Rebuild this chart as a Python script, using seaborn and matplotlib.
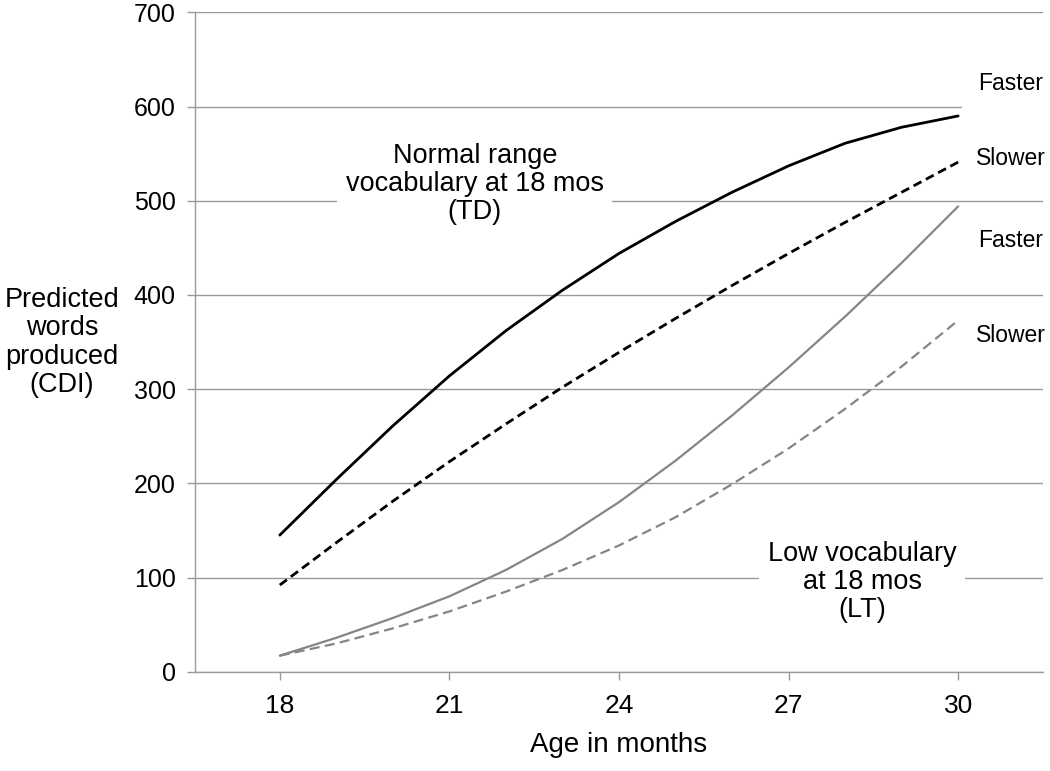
import matplotlib
matplotlib.use("Agg")
import matplotlib.pyplot as plt
import seaborn as sns
import pandas as pd

# values (predicted CDI words by month)
months = [18, 19, 20, 21, 22, 23, 24, 25, 26, 27, 28, 29, 30]
td_faster = [145, 204, 261, 314, 362, 405, 444, 478, 509, 537, 561, 578, 590]
td_slower = [92, 137, 181, 223, 263, 302, 339, 375, 410, 444, 477, 509, 541]
lt_faster = [17, 36, 57, 80, 108, 141, 180, 224, 272, 323, 377, 434, 494]
lt_slower = [17, 30, 46, 64, 85, 108, 134, 164, 199, 237, 279, 324, 373]

y_ticks = [0, 100, 200, 300, 400, 500, 600, 700]
x_ticks = [18, 21, 24, 27, 30]

series = {
    "TD faster": td_faster,
    "TD slower": td_slower,
    "LT faster": lt_faster,
    "LT slower": lt_slower,
}
df = pd.concat(
    [pd.DataFrame({"month": months, "words": v, "group": k}) for k, v in series.items()],
    ignore_index=True,
)

sns.set_theme(style="white")
plt.rcParams["font.family"] = ["Liberation Sans", "DejaVu Sans"]
plt.rcParams["text.color"] = "black"
plt.rcParams["axes.labelcolor"] = "black"

fig = plt.figure(figsize=(10.5, 7.71), dpi=100)
ax = fig.add_axes([0.1857, 0.1288, 0.8076, 0.8552])

gray = "#858585"
styles = {
    "TD faster": ("black", "-", 2.0),
    "TD slower": ("black", (0, (3.2, 1.8)), 2.0),
    "LT faster": (gray, "-", 1.6),
    "LT slower": (gray, (0, (4.5, 2.4)), 1.6),
}
for name, (col, ls, lw) in styles.items():
    sns.lineplot(data=df[df["group"] == name], x="month", y="words", ax=ax,
                 color=col, linestyle=ls, linewidth=lw, zorder=3)

ax.set_xlim(16.5, 31.5)
ax.set_ylim(0, 700)
ax.set_yticks(y_ticks)
ax.set_xticks(x_ticks)
ax.yaxis.grid(True, color="#9a9a9a", linewidth=1.0)
ax.xaxis.grid(False)
for s in ["top", "right"]:
    ax.spines[s].set_visible(False)
for s in ["left", "bottom"]:
    ax.spines[s].set_color("#9a9a9a")
    ax.spines[s].set_linewidth(1.0)
ax.tick_params(axis="both", which="both", direction="out", length=6, width=1,
               color="#9a9a9a", labelsize=18, labelcolor="black", pad=8,
               left=True, bottom=True)
ax.tick_params(axis="x", labelsize=19, pad=10)

ax.set_xlabel("Age in months", fontsize=20, labelpad=10, color="black")
ax.set_ylabel("")

fig.text(0.059, 0.556, "Predicted\nwords\nproduced\n(CDI)", ha="center", va="center",
         fontsize=19.5, linespacing=1.12, color="black")

box = dict(facecolor="white", edgecolor="none", pad=6)
ax.text(21.45, 518, "Normal range\nvocabulary at 18 mos\n(TD)", ha="center", va="center",
        fontsize=19.5, linespacing=1.1, bbox=box, zorder=4, color="black")
ax.text(28.3, 95, "Low vocabulary\nat 18 mos\n(LT)", ha="center", va="center",
        fontsize=19.5, linespacing=1.1, bbox=box, zorder=4, color="black")

side = dict(facecolor="white", edgecolor="none", pad=4)
ax.text(30.92, 624, "Faster", ha="center", va="center", fontsize=16.5, color="black",
        bbox=dict(facecolor="white", edgecolor="none", pad=11), zorder=4)
ax.text(30.94, 545, "Slower", ha="center", va="center", fontsize=16.5, color="black",
        bbox=side, zorder=4)
ax.text(30.92, 458, "Faster", ha="center", va="center", fontsize=16.5, color="black",
        bbox=side, zorder=4)
ax.text(30.94, 357, "Slower", ha="center", va="center", fontsize=16.5, color="black",
        bbox=side, zorder=4)

fig.savefig("out.png", dpi=100)
